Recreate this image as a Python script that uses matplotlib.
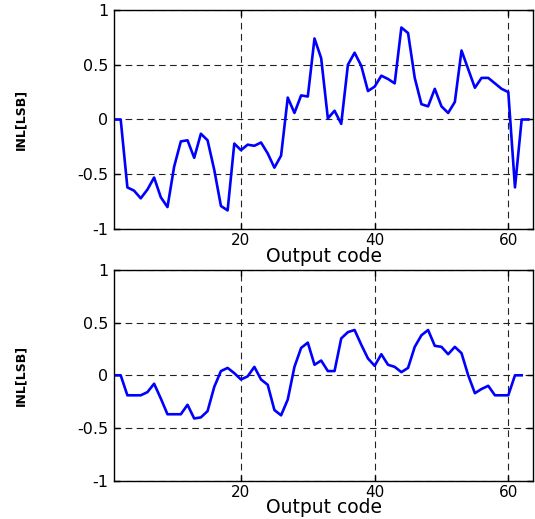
import numpy as np
import matplotlib as mpl
import matplotlib.pyplot as plt

mpl.use('Agg')

# INL before calibration (codes 1..63)
inl_top = [0, 0, -0.62, -0.65, -0.72, -0.64, -0.53, -0.71, -0.80, -0.43,
           -0.20, -0.19, -0.35, -0.13, -0.19, -0.46, -0.79, -0.83, -0.22, -0.28,
           -0.23, -0.24, -0.21, -0.31, -0.44, -0.33, 0.20, 0.06, 0.22, 0.21,
           0.74, 0.56, 0.01, 0.08, -0.04, 0.50, 0.61, 0.49, 0.26, 0.30,
           0.40, 0.37, 0.33, 0.84, 0.79, 0.38, 0.14, 0.12, 0.28, 0.12,
           0.06, 0.16, 0.63, 0.46, 0.29, 0.38, 0.38, 0.33, 0.28, 0.25,
           -0.62, 0, 0]

# INL after calibration (codes 1..62)
inl_bot = [0, 0, -0.19, -0.19, -0.19, -0.16, -0.08, -0.22, -0.37, -0.37,
           -0.37, -0.28, -0.41, -0.40, -0.34, -0.11, 0.04, 0.07, 0.02, -0.04,
           -0.01, 0.08, -0.04, -0.09, -0.33, -0.38, -0.23, 0.08, 0.26, 0.31,
           0.10, 0.14, 0.04, 0.04, 0.35, 0.41, 0.43, 0.29, 0.16, 0.09,
           0.20, 0.10, 0.08, 0.03, 0.07, 0.27, 0.38, 0.43, 0.28, 0.27,
           0.20, 0.27, 0.21, 0.0, -0.17, -0.13, -0.10, -0.19, -0.19, -0.19,
           0, 0]

xticks = [20, 40, 60]
yticks = [-1, -0.5, 0, 0.5, 1]
ytick_labels = ['-1', '-0.5', '0', '0.5', '1']

fig = plt.figure(figsize=(5.35, 5.19), dpi=100)
ax1 = fig.add_axes([0.2131, 0.5588, 0.7832, 0.4219])
ax2 = fig.add_axes([0.2131, 0.0740, 0.7832, 0.4058])

for ax, y in [(ax1, inl_top), (ax2, inl_bot)]:
    x = np.arange(1, len(y) + 1)
    ax.plot(x, y, color='#0000ff', linewidth=1.9)
    ax.set_xlim(1, 63.7)
    ax.set_ylim(-1, 1)
    ax.set_xticks(xticks)
    ax.set_xticklabels([str(t) for t in xticks], fontsize=11)
    ax.set_yticks(yticks)
    ax.set_yticklabels(ytick_labels, fontsize=11.5)
    ax.tick_params(direction='in', top=True, right=True, length=4, width=1, pad=4)
    ax.tick_params(axis='x', pad=3)
    ax.grid(True, color='#222222', linestyle=(0, (6, 4)), linewidth=0.8)
    for s in ax.spines.values():
        s.set_linewidth(1)
    ax.set_xlabel('Output code', fontsize=13.5, labelpad=-1)
    ax.set_ylabel('INL[LSB]', fontsize=9, fontweight='bold')
    ax.yaxis.set_label_coords(-0.208, 0.5)

fig.savefig('out.png', dpi=100)
